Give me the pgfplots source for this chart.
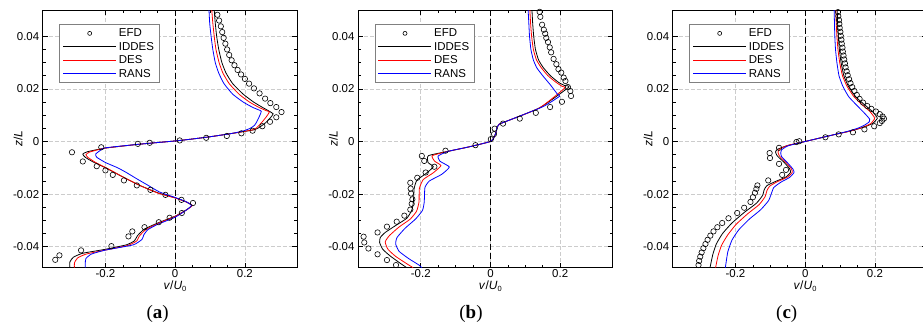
\documentclass[border=0pt]{standalone}
\usepackage{fontspec}
\setmainfont{Liberation Sans}
\newfontfamily\capfont{Liberation Serif}
\usepackage{pgfplots}
\pgfplotsset{compat=1.18}

\tikzset{capnode/.style={font=\capfont\fontsize{19}{21}\selectfont}}
\pgfplotsset{
  profile/.style={
    scale only axis, width=254.5bp, height=257.7bp, anchor=south west,
    xmin=-0.38, xmax=0.35, ymin=-0.048, ymax=0.05,
    scaled ticks=false,
    xtick={-0.2,0,0.2}, xticklabels={-0.2,0,0.2},
    ytick={-0.04,-0.02,0,0.02,0.04}, yticklabels={-0.04,-0.02,0,0.02,0.04},
    minor x tick num=3, minor y tick num=3,
    tick align=inside, major tick length=5bp, minor tick length=3bp,
    every tick/.style={black, line width=0.7bp},
    axis line style={line width=0.9bp},
    grid=major, major grid style={dash pattern=on 4bp off 2bp, black!20, line width=0.6bp},
    tick label style={font=\fontsize{11.5}{13}\selectfont},
    xticklabel style={yshift=2bp},
    label style={font=\fontsize{12}{14}\selectfont},
    xlabel={\textit{v}/\textit{U}\raisebox{-0.45ex}{\fontsize{7.5}{8}\selectfont 0}},
    ylabel={\textit{z}/\textit{L}},
    xlabel style={at={(axis description cs:0.52,-0.072)}, anchor=center},
    ylabel style={at={(axis description cs:-0.097,0.5)}, anchor=center},
    legend style={at={(0.065,0.944)}, anchor=north west, draw=black!50, fill=white,
      line width=0.5bp, font=\fontsize{11.5}{13}\selectfont, inner xsep=3bp, inner ysep=2bp,
      row sep=0bp, /tikz/every even column/.append style={column sep=6bp}},
    legend cell align=left,
  },
  efd/.style={only marks, mark=o, black, mark size=2.7bp, mark options={line width=0.6bp},
    legend image code/.code={\draw[black, line width=0.6bp] (26.5bp,0bp) circle[radius=2bp];}},
  % line plots: the colour is passed so that the legend sample gets it explicitly
  cfd/.style={no marks, line width=0.8bp, smooth, tension=0.3, color=#1,
    legend image code/.code={\begin{scope}\color{#1}\draw[color=#1, line width=1.4bp] (0bp,0bp) -- (53bp,0bp);\end{scope}}},
  zeroline/.style={forget plot, black, line width=0.9bp, dash pattern=on 6bp off 3bp},
}

\begin{document}
\begin{tikzpicture}
% ---------------- (a) ----------------
\begin{axis}[profile, name=A, at={(42.7bp,-267.7bp)}]
\addplot[zeroline] coordinates {(0,-0.048) (0,0.05)};
\addplot[efd] coordinates {
(0.121,0.0482) (0.126,0.0460) (0.131,0.0438) (0.135,0.0416) (0.139,0.0394)
(0.144,0.0372) (0.149,0.0350) (0.155,0.0329) (0.162,0.0309) (0.170,0.0290)
(0.179,0.0272) (0.189,0.0255) (0.200,0.0238) (0.212,0.0220) (0.226,0.0202)
(0.242,0.0183) (0.258,0.0163) (0.273,0.0146) (0.290,0.0131) (0.305,0.0112)
(0.290,0.0092) (0.272,0.0075) (0.250,0.0058) (0.222,0.0041) (0.190,0.0031)
(0.148,0.0021) (0.089,0.0014) (0.013,0.0004) (-0.073,-0.0005) (-0.107,-0.0009)
(-0.212,-0.0022) (-0.296,-0.0041) (-0.265,-0.0076) (-0.225,-0.0094) (-0.200,-0.0110)
(-0.179,-0.0127) (-0.147,-0.0148) (-0.110,-0.0167) (-0.071,-0.0184) (-0.028,-0.0203)
(0.018,-0.0222) (0.051,-0.0234) (0.019,-0.0272) (-0.016,-0.0290) (-0.047,-0.0307)
(-0.088,-0.0326) (-0.123,-0.0342) (-0.134,-0.0361) (-0.183,-0.0398) (-0.270,-0.0414)
(-0.332,-0.0433) (-0.344,-0.0450)};
\addlegendentry{EFD}
\addplot[cfd=black] coordinates {
(0.112,0.0500) (0.115,0.045) (0.119,0.040) (0.125,0.035) (0.134,0.030) (0.146,0.026)
(0.165,0.022) (0.195,0.018) (0.225,0.015) (0.250,0.013) (0.270,0.0115) (0.281,0.0105)
(0.273,0.0090) (0.260,0.0072) (0.245,0.0057) (0.228,0.0045) (0.160,0.0030) (0.100,0.0018)
(0.040,0.0008) (0.000,0.0002) (-0.100,-0.0010) (-0.200,-0.0025) (-0.252,-0.0039)
(-0.265,-0.0048) (-0.258,-0.0060) (-0.235,-0.0078) (-0.200,-0.0100) (-0.150,-0.0135)
(-0.100,-0.0168) (-0.050,-0.0195) (0.000,-0.0214) (0.030,-0.0229) (0.048,-0.0243)
(0.032,-0.0260) (0.000,-0.0284) (-0.050,-0.0310) (-0.088,-0.0333) (-0.108,-0.0358)
(-0.117,-0.0378) (-0.140,-0.0393) (-0.200,-0.0410) (-0.265,-0.0425) (-0.292,-0.0440)
(-0.302,-0.0458) (-0.302,-0.0480)};
\addlegendentry{IDDES}
\addplot[cfd=red] coordinates {
(0.105,0.0500) (0.108,0.045) (0.112,0.040) (0.117,0.035) (0.126,0.030) (0.137,0.026)
(0.155,0.022) (0.183,0.018) (0.213,0.015) (0.240,0.013) (0.260,0.0118) (0.270,0.0112)
(0.262,0.0095) (0.250,0.0075) (0.238,0.0058) (0.225,0.0045) (0.160,0.0030) (0.100,0.0018)
(0.040,0.0008) (0.000,0.0002) (-0.100,-0.0010) (-0.200,-0.0025) (-0.245,-0.0040)
(-0.256,-0.0050) (-0.250,-0.0061) (-0.228,-0.0080) (-0.195,-0.0102) (-0.148,-0.0136)
(-0.100,-0.0168) (-0.050,-0.0196) (0.000,-0.0215) (0.030,-0.0229) (0.049,-0.0243)
(0.033,-0.0260) (0.000,-0.0285) (-0.050,-0.0312) (-0.085,-0.0336) (-0.103,-0.0360)
(-0.110,-0.0378) (-0.135,-0.0395) (-0.200,-0.0413) (-0.255,-0.0428) (-0.280,-0.0443)
(-0.289,-0.0462) (-0.289,-0.0480)};
\addlegendentry{DES}
\addplot[cfd=blue] coordinates {
(0.097,0.0500) (0.099,0.045) (0.103,0.040) (0.108,0.035) (0.115,0.030) (0.125,0.026)
(0.140,0.022) (0.165,0.018) (0.195,0.015) (0.222,0.013) (0.240,0.0120) (0.247,0.0115)
(0.243,0.0100) (0.236,0.0080) (0.228,0.0062) (0.215,0.0050) (0.195,0.0040) (0.160,0.0030)
(0.100,0.0018) (0.040,0.0008) (0.000,0.0002) (-0.100,-0.0010) (-0.200,-0.0024)
(-0.215,-0.0034) (-0.228,-0.0048) (-0.225,-0.0060) (-0.200,-0.0080) (-0.165,-0.0100)
(-0.140,-0.0118) (-0.110,-0.0142) (-0.080,-0.0165) (-0.045,-0.0192) (0.000,-0.0213)
(0.030,-0.0228) (0.047,-0.0243) (0.033,-0.0260) (0.000,-0.0288) (-0.050,-0.0315)
(-0.078,-0.0335) (-0.090,-0.0355) (-0.095,-0.0372) (-0.120,-0.0393) (-0.200,-0.0413)
(-0.240,-0.0428) (-0.256,-0.0445) (-0.258,-0.0465) (-0.258,-0.0480)};
\addlegendentry{RANS}
\end{axis}
\node[capnode] at ([xshift=115bp,yshift=-46bp]A.south west) {(\textbf{a})};

% ---------------- (b) ----------------
\begin{axis}[profile, name=B, at={(358bp,-267.7bp)}]
\addplot[zeroline] coordinates {(0,-0.048) (0,0.05)};
\addplot[efd] coordinates {
(0.141,0.0493) (0.143,0.0474) (0.148,0.0444) (0.153,0.0425) (0.157,0.0410)
(0.160,0.0394) (0.165,0.0378) (0.170,0.0358) (0.174,0.0339) (0.181,0.0314)
(0.189,0.0294) (0.195,0.0275) (0.203,0.0262) (0.210,0.0243) (0.215,0.0230)
(0.222,0.0207) (0.229,0.0192) (0.231,0.0173) (0.205,0.0151) (0.171,0.0131)
(0.130,0.0109) (0.084,0.0087) (0.036,0.0068) (0.012,0.0049) (0.010,0.0028)
(0.001,0.0009) (-0.043,-0.0014) (-0.129,-0.0035) (-0.197,-0.0055) (-0.190,-0.0074)
(-0.161,-0.0096) (-0.186,-0.0118) (-0.210,-0.0138) (-0.230,-0.0157) (-0.229,-0.0179)
(-0.228,-0.0198) (-0.224,-0.0220) (-0.226,-0.0237) (-0.230,-0.0259) (-0.247,-0.0282)
(-0.269,-0.0305) (-0.297,-0.0324) (-0.324,-0.0346) (-0.364,-0.0362) (-0.362,-0.0384)
(-0.350,-0.0407) (-0.324,-0.0429) (-0.297,-0.0451) (-0.271,-0.0470)};
\addlegendentry{EFD}
\addplot[cfd=black] coordinates {
(0.119,0.0500) (0.121,0.045) (0.124,0.040) (0.129,0.035) (0.138,0.031) (0.152,0.028)
(0.172,0.025) (0.195,0.0225) (0.212,0.0213) (0.224,0.0206) (0.141,0.0128) (0.046,0.0077)
(0.025,0.0066) (0.018,0.0050) (0.016,0.0035) (0.010,0.0015) (0.000,0.0000)
(-0.060,-0.0020) (-0.120,-0.0037) (-0.178,-0.0054) (-0.179,-0.0080) (-0.164,-0.0096)
(-0.185,-0.0122) (-0.211,-0.0147) (-0.219,-0.0179) (-0.221,-0.0230) (-0.226,-0.0262)
(-0.240,-0.0292) (-0.269,-0.0317) (-0.302,-0.0346) (-0.316,-0.0365) (-0.318,-0.0384)
(-0.309,-0.0410) (-0.288,-0.0435) (-0.259,-0.0463) (-0.240,-0.0480)};
\addlegendentry{IDDES}
\addplot[cfd=red] coordinates {
(0.113,0.0500) (0.115,0.045) (0.118,0.040) (0.123,0.035) (0.132,0.031) (0.146,0.028)
(0.165,0.025) (0.188,0.0225) (0.205,0.0210) (0.212,0.0202) (0.141,0.0128) (0.046,0.0077)
(0.025,0.0066) (0.018,0.0050) (0.016,0.0035) (0.010,0.0015) (0.000,0.0000)
(-0.060,-0.0020) (-0.120,-0.0037) (-0.167,-0.0054) (-0.160,-0.0075) (-0.142,-0.0092)
(-0.165,-0.0120) (-0.193,-0.0145) (-0.204,-0.0179) (-0.205,-0.0230) (-0.212,-0.0265)
(-0.230,-0.0295) (-0.262,-0.0325) (-0.290,-0.0358) (-0.302,-0.0382) (-0.294,-0.0410)
(-0.272,-0.0437) (-0.240,-0.0465) (-0.222,-0.0480)};
\addlegendentry{DES}
\addplot[cfd=blue] coordinates {
(0.108,0.0500) (0.110,0.045) (0.112,0.040) (0.116,0.035) (0.123,0.031) (0.133,0.028)
(0.150,0.025) (0.172,0.0215) (0.192,0.0180) (0.198,0.0172) (0.150,0.0132) (0.046,0.0077)
(0.025,0.0066) (0.018,0.0050) (0.016,0.0035) (0.010,0.0015) (0.000,0.0000)
(-0.060,-0.0020) (-0.120,-0.0037) (-0.150,-0.0055) (-0.145,-0.0075) (-0.118,-0.0097)
(-0.140,-0.0125) (-0.175,-0.0150) (-0.188,-0.0175) (-0.190,-0.0230) (-0.195,-0.0262)
(-0.215,-0.0295) (-0.245,-0.0330) (-0.268,-0.0365) (-0.272,-0.0390) (-0.262,-0.0418)
(-0.235,-0.0445) (-0.205,-0.0470) (-0.197,-0.0480)};
\addlegendentry{RANS}
\end{axis}
\node[capnode] at ([xshift=113bp,yshift=-46bp]B.south west) {(\textbf{b})};

% ---------------- (c) ----------------
\begin{axis}[profile, name=C, at={(672.7bp,-267.7bp)}]
\addplot[zeroline] coordinates {(0,-0.048) (0,0.05)};
\addplot[efd] coordinates {
(0.094,0.0492) (0.095,0.0477) (0.097,0.0462) (0.098,0.0447) (0.099,0.0432)
(0.101,0.0417) (0.102,0.0402) (0.104,0.0387) (0.105,0.0372) (0.107,0.0357)
(0.108,0.0342) (0.110,0.0327) (0.112,0.0312) (0.114,0.0297) (0.116,0.0282)
(0.119,0.0267) (0.122,0.0252) (0.126,0.0237) (0.130,0.0222) (0.135,0.0207)
(0.141,0.0192) (0.148,0.0177) (0.156,0.0162) (0.166,0.0148) (0.178,0.0135)
(0.190,0.0124) (0.203,0.0114) (0.214,0.0104) (0.222,0.0095) (0.226,0.0087)
(0.220,0.0078) (0.214,0.0070) (0.198,0.0058) (0.170,0.0046) (0.137,0.0035)
(0.096,0.0027) (0.058,0.0016) (-0.017,0.0001) (-0.025,-0.0002) (-0.075,-0.0024)
(-0.102,-0.0044) (-0.101,-0.0063) (-0.075,-0.0085) (-0.055,-0.0108) (-0.066,-0.0127)
(-0.106,-0.0148) (-0.137,-0.0167) (-0.140,-0.0180) (-0.144,-0.0195) (-0.150,-0.0212)
(-0.157,-0.0230) (-0.175,-0.0252) (-0.195,-0.0272) (-0.220,-0.0292) (-0.238,-0.0310)
(-0.252,-0.0326) (-0.263,-0.0342) (-0.272,-0.0358) (-0.280,-0.0374) (-0.286,-0.0390)
(-0.292,-0.0406) (-0.297,-0.0422) (-0.301,-0.0438) (-0.304,-0.0454) (-0.306,-0.0470)};
\addlegendentry{EFD}
\addplot[cfd=black] coordinates {
(0.092,0.050) (0.093,0.045) (0.095,0.040) (0.098,0.035) (0.103,0.030) (0.111,0.025)
(0.124,0.021) (0.145,0.017) (0.170,0.014) (0.192,0.0115) (0.205,0.0095) (0.207,0.0088)
(0.195,0.0070) (0.170,0.0055) (0.130,0.0040) (0.080,0.0025) (0.000,0.0000)
(-0.050,-0.0015) (-0.080,-0.0030) (-0.085,-0.0040) (-0.080,-0.0055) (-0.060,-0.0080)
(-0.045,-0.0103) (-0.042,-0.0117) (-0.055,-0.0135) (-0.085,-0.0152) (-0.110,-0.0168)
(-0.118,-0.0185) (-0.122,-0.0205) (-0.140,-0.0235) (-0.175,-0.0270) (-0.210,-0.0310)
(-0.237,-0.0350) (-0.255,-0.0390) (-0.265,-0.0430) (-0.273,-0.0480)};
\addlegendentry{IDDES}
\addplot[cfd=red] coordinates {
(0.088,0.050) (0.089,0.045) (0.091,0.040) (0.094,0.035) (0.099,0.030) (0.107,0.025)
(0.120,0.021) (0.140,0.017) (0.163,0.014) (0.185,0.0115) (0.198,0.0093) (0.199,0.0086)
(0.188,0.0068) (0.165,0.0054) (0.130,0.0040) (0.080,0.0025) (0.000,0.0000)
(-0.050,-0.0015) (-0.075,-0.0030) (-0.078,-0.0040) (-0.074,-0.0055) (-0.055,-0.0080)
(-0.040,-0.0103) (-0.037,-0.0117) (-0.050,-0.0135) (-0.080,-0.0153) (-0.102,-0.0170)
(-0.110,-0.0188) (-0.115,-0.0210) (-0.132,-0.0240) (-0.165,-0.0275) (-0.198,-0.0315)
(-0.222,-0.0355) (-0.240,-0.0395) (-0.250,-0.0435) (-0.257,-0.0480)};
\addlegendentry{DES}
\addplot[cfd=blue] coordinates {
(0.083,0.050) (0.084,0.045) (0.085,0.040) (0.087,0.035) (0.091,0.030) (0.097,0.025)
(0.108,0.021) (0.125,0.017) (0.150,0.0135) (0.172,0.0105) (0.185,0.0085) (0.184,0.0075)
(0.170,0.0062) (0.150,0.0050) (0.120,0.0038) (0.070,0.0022) (0.000,0.0000)
(-0.050,-0.0017) (-0.068,-0.0032) (-0.070,-0.0042) (-0.068,-0.0057) (-0.050,-0.0082)
(-0.035,-0.0105) (-0.032,-0.0118) (-0.045,-0.0137) (-0.070,-0.0155) (-0.090,-0.0175)
(-0.097,-0.0198) (-0.105,-0.0225) (-0.128,-0.0260) (-0.160,-0.0295) (-0.190,-0.0335)
(-0.210,-0.0375) (-0.222,-0.0420) (-0.229,-0.0480)};
\addlegendentry{RANS}
\end{axis}
\node[capnode] at ([xshift=114bp,yshift=-46bp]C.south west) {(\textbf{c})};

\pgfresetboundingbox
\path[use as bounding box] (0bp,0bp) rectangle (923bp,-329bp);
\end{tikzpicture}
\end{document}
